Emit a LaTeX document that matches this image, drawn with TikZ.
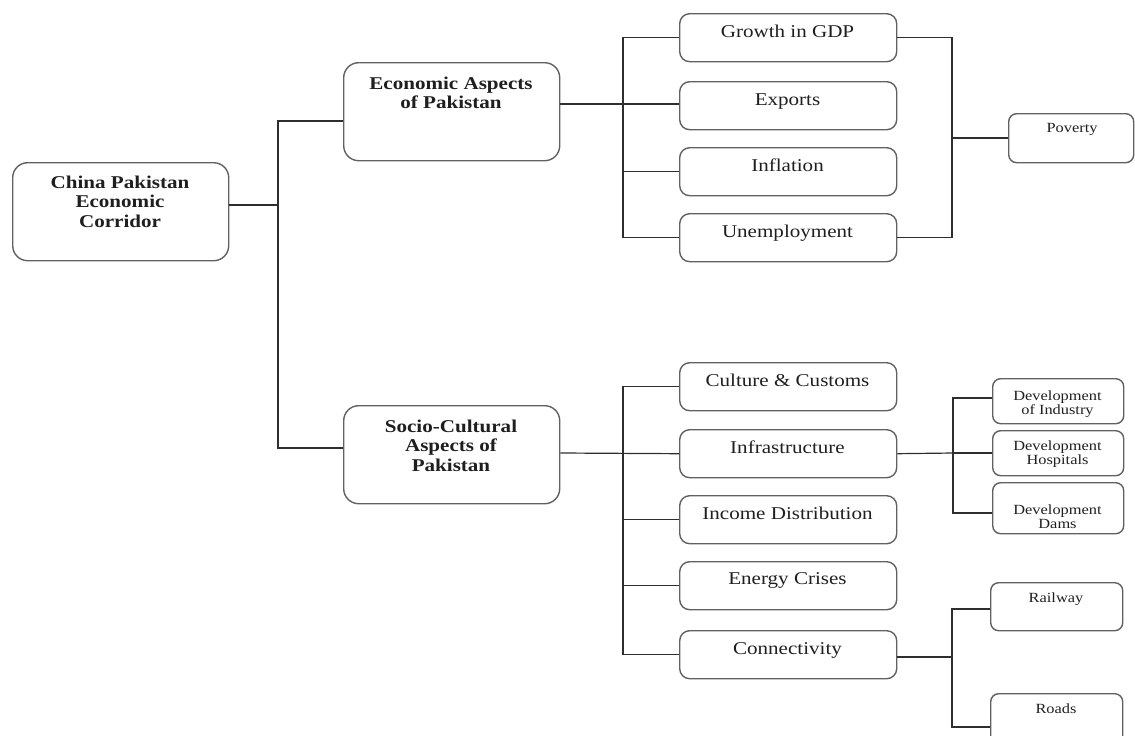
\documentclass[tikz,border=0pt]{standalone}
\usepackage{fontspec}
\setmainfont{Liberation Serif}[FakeStretch=1.17]
\begin{document}
\begin{tikzpicture}[x=1pt,y=-1pt,
  boxline/.style={draw=black!62, line width=1.4pt, fill=none, inner sep=0pt, anchor=north west},
  bigbox/.style={boxline, rounded corners=15pt},
  midbox/.style={boxline, rounded corners=10pt, minimum width=217pt, minimum height=48pt},
  smallbox/.style={boxline, rounded corners=8pt},
  bigtxt/.style={inner sep=0pt, anchor=north, align=center, text=black!88,
    font=\fontsize{18}{19.5}\selectfont\bfseries},
  midtxt/.style={inner sep=0pt, anchor=base, text=black!88, font=\fontsize{18}{21}\selectfont},
  smalltxt/.style={inner sep=0pt, anchor=north, align=center, text=black!88,
    font=\fontsize{14}{14.5}\selectfont},
  conn/.style={draw=black!82, line width=1.2pt}
]
\useasboundingbox (0,0) rectangle (1135,736);

% ---- main boxes
\node[bigbox, minimum width=216pt, minimum height=98pt] (cpec) at (12,162) {};
\node[bigtxt] (cpect) at (120,175.8) {China Pakistan\\Economic\\Corridor};
\node[bigbox, minimum width=216pt, minimum height=98pt] (econ) at (343,62) {};
\node[bigtxt] (econt) at (451,76.8) {Economic Aspects\\of Pakistan};
\node[bigbox, minimum width=216pt, minimum height=98pt] (socio) at (343,405) {};
\node[bigtxt] (sociot) at (451,419.8) {Socio-Cultural\\Aspects of\\Pakistan};

% ---- economic children
\node[midbox] (gdp) at (679,13) {};
\node[midtxt] (gdpt) at (787.5,37) {Growth in GDP};
\node[midbox] (exp) at (679,81) {};
\node[midtxt] (expt) at (787.5,105) {Exports};
\node[midbox] (infl) at (679,147) {};
\node[midtxt] (inflt) at (787.5,171) {Inflation};
\node[midbox] (unemp) at (679,213) {};
\node[midtxt] (unempt) at (787.5,237) {Unemployment};

% ---- poverty
\node[smallbox, minimum width=125pt, minimum height=49pt] (pov) at (1008,113) {};
\node[smalltxt] (povt) at (1072,123.5) {Poverty};

% ---- socio children
\node[midbox] (cult) at (679,362) {};
\node[midtxt] (cultt) at (787.5,386) {Culture \& Customs};
\node[midbox] (infra) at (679,429) {};
\node[midtxt] (infrat) at (787.5,453) {Infrastructure};
\node[midbox] (inc) at (679,495) {};
\node[midtxt] (inct) at (787.5,519) {Income Distribution};
\node[midbox] (energy) at (679,561) {};
\node[midtxt] (energyt) at (787.5,584) {Energy Crises};
\node[midbox] (conn) at (679,630) {};
\node[midtxt] (connt) at (787.5,654) {Connectivity};

% ---- development boxes
\node[smallbox, minimum width=131pt, minimum height=45pt] (ind) at (992,378) {};
\node[smalltxt] (indt) at (1057.5,390.5) {Development\\of Industry};
\node[smallbox, minimum width=131pt, minimum height=45pt] (hosp) at (992,430) {};
\node[smalltxt] (hospt) at (1057.5,440.5) {Development\\Hospitals};
\node[smallbox, minimum width=131pt, minimum height=51pt] (dams) at (992,482) {};
\node[smalltxt] (damst) at (1057.5,504.5) {Development\\Dams};

% ---- railway / roads
\node[smallbox, minimum width=132pt, minimum height=48pt] (rail) at (990,582) {};
\node[smalltxt] (railt) at (1056,592.5) {Railway};
\node[smallbox, minimum width=132pt, minimum height=68pt] (roads) at (990,693) {};
\node[smalltxt] (roadst) at (1056,703.5) {Roads};

% ---- junction coordinates
\coordinate (jA) at (278,205);
\coordinate (jAt) at (278,121);
\coordinate (jAb) at (278,448);
\coordinate (jE) at (623,104);
\coordinate (jP) at (952,138);
\coordinate (jS) at (623,453);
\coordinate (jI) at (953,453);
\coordinate (jC) at (952,657);

% ---- connectors: root
\draw[conn] (cpec.east |- jA) -- (jA);
\draw[conn] (econ.west |- jAt) -- (jAt) -- (jAb) -- (socio.west |- jAb);

% ---- economic
\draw[conn] (econ.east |- jE) -- (exp.west |- jE);
\draw[conn] (gdp.west) -| (jE) |- (unemp.west);
\draw[conn] (jE) |- (infl.west);
\draw[conn] (gdp.east) -| (jP) |- (unemp.east);
\draw[conn] (jP) -- (pov.west |- jP);

% ---- socio
\draw[conn] (socio.east |- jS) -- (infra.west);
\draw[conn] (cult.west) -| (jS) |- (conn.west);
\draw[conn] (jS) |- (inc.west);
\draw[conn] (jS) |- (energy.west);

% ---- infrastructure
\draw[conn] (infra.east) -- (jI);
\draw[conn] (ind.west |- 0,398) -| (jI) |- (dams.west |- 0,513);
\draw[conn] (jI) -- (hosp.west |- jI);

% ---- connectivity
\draw[conn] (conn.east |- jC) -- (jC);
\draw[conn] (rail.west |- 0,609) -| (jC) |- (roads.west |- 0,727);
\end{tikzpicture}
\end{document}
